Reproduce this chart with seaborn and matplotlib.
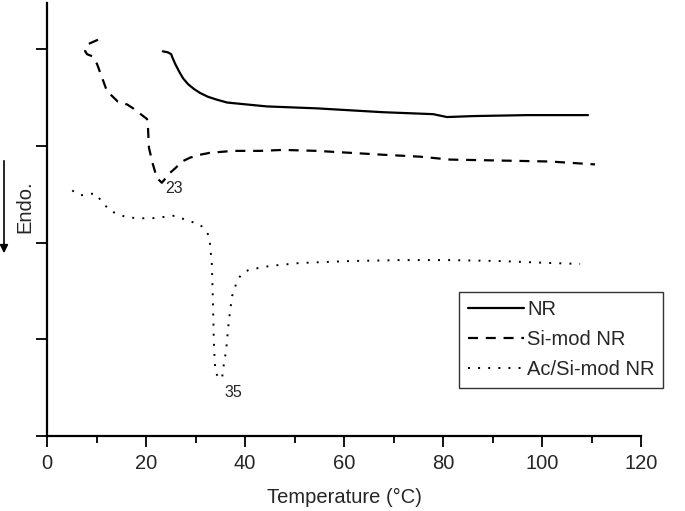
import numpy as np
import pandas as pd
import matplotlib
matplotlib.use("Agg")
import matplotlib.pyplot as plt
import seaborn as sns

# DSC curves (temperature in C, heat flow in arbitrary units)
nr_temp = [23.4, 24.4, 25.1, 25.3, 25.9, 26.7, 27.5, 28.5, 29.7, 30.9, 32.5, 34.3, 36.4, 38.4, 44.4,
           54.5, 67.9, 78.0, 80.8, 86.1, 97.0, 109.3]
nr_flow = [3.98, 3.97, 3.95, 3.92, 3.85, 3.77, 3.70, 3.64, 3.59, 3.55, 3.51, 3.48, 3.45, 3.44, 3.41,
           3.39, 3.35, 3.33, 3.30, 3.31, 3.32, 3.32]

si_temp = [10.3, 8.1, 7.7, 8.1, 9.1, 10.1, 12.1, 14.3, 16.2, 17.4, 20.2, 20.4, 20.6, 21.4, 22.2, 23.2,
           24.0, 24.8, 25.9, 27.3, 28.9, 30.9, 32.9, 37.6, 43.0, 47.7, 54.5, 61.2, 67.9, 75.4, 81.4,
           91.5, 101.6, 110.7]
si_flow = [4.10, 4.05, 3.98, 3.95, 3.93, 3.85, 3.57, 3.46, 3.43, 3.39, 3.28, 3.19, 2.98, 2.81, 2.67, 2.62,
           2.67, 2.72, 2.77, 2.84, 2.88, 2.91, 2.93, 2.95, 2.95, 2.96, 2.95, 2.93, 2.91, 2.89, 2.86,
           2.85, 2.84, 2.81]

ac_temp = [5.1, 6.7, 9.7, 10.7, 12.7, 16.2, 20.8, 24.2, 25.9, 28.3, 30.9, 32.5, 32.9, 33.3, 33.5, 33.7,
           33.9, 34.1, 34.7, 35.4, 35.6, 36.2, 36.6, 37.0, 37.4, 38.0, 38.4, 39.4, 40.8, 45.1, 51.1,
           61.2, 71.3, 81.4, 91.5, 101.6, 107.7]
ac_flow = [2.54, 2.49, 2.51, 2.45, 2.33, 2.26, 2.25, 2.27, 2.28, 2.23, 2.19, 2.09, 2.00, 1.78, 1.43, 0.99,
           0.75, 0.66, 0.59, 0.61, 0.70, 0.89, 1.12, 1.30, 1.45, 1.54, 1.61, 1.68, 1.72, 1.76, 1.79,
           1.81, 1.82, 1.82, 1.81, 1.79, 1.78]

x_ticks = [0, 20, 40, 60, 80, 100, 120]

sns.set_style("ticks")
plt.rcParams['font.family'] = ['Liberation Sans', 'DejaVu Sans']

fig = plt.figure(figsize=(6.85, 5.11), dpi=100)
ax = fig.add_axes([47 / 685, 1 - 436 / 511, 594 / 685, 433 / 511])

sns.lineplot(x=nr_temp, y=nr_flow, ax=ax, sort=False, estimator=None,
             color='black', linewidth=1.6, label='NR')
sns.lineplot(x=si_temp, y=si_flow, ax=ax, sort=False, estimator=None,
             color='black', linewidth=1.6, linestyle=(0, (4.5, 3.5)), label='Si-mod NR')
sns.lineplot(x=ac_temp, y=ac_flow, ax=ax, sort=False, estimator=None,
             color='black', linewidth=1.4, linestyle=(0, (1, 4.2)), label='Ac/Si-mod NR')

# peak labels
ax.text(25.7, 2.56, '23', fontsize=11.5, ha='center', va='center')
ax.text(37.7, 0.45, '35', fontsize=11.5, ha='center', va='center')

ax.set_xlim(0, 120)
ax.set_ylim(0, 4.48)
ax.set_xticks(x_ticks)
ax.set_xticks([10, 30, 50, 70, 90, 110], minor=True)
ax.set_yticks([0, 1, 2, 3, 4])
ax.set_yticklabels([])
ax.tick_params(axis='x', which='major', length=8, width=1.3, labelsize=14.5, pad=5, color='black')
ax.tick_params(axis='x', which='minor', length=5, width=1.3, color='black')
ax.tick_params(axis='y', length=8, width=1.3, color='black')
for s in ['left', 'bottom']:
    ax.spines[s].set_linewidth(1.6)
    ax.spines[s].set_color('black')
sns.despine(ax=ax)

ax.set_xlabel('Temperature (\u00b0C)', fontsize=14.5, labelpad=11)
ax.set_ylabel('')

# Endo. marker on the left
fig.text(25 / 685, 1 - 207 / 511, 'Endo.', rotation=90, fontsize=14.5, ha='center', va='center')
ax.annotate('', xy=(4, 511 - 256), xytext=(4, 511 - 158), xycoords='figure pixels',
            textcoords='figure pixels',
            arrowprops=dict(arrowstyle='-|>', color='black', lw=1.2, mutation_scale=12))

leg = ax.legend(loc='upper left', bbox_to_anchor=(0.694, 0.333), borderaxespad=0,
                fontsize=14.5, frameon=True, fancybox=False, handlelength=2.8,
                handletextpad=0.15, labelspacing=0.55, borderpad=0.42)
leg.get_frame().set_edgecolor('black')
leg.get_frame().set_linewidth(1.0)

fig.savefig('out.png', dpi=100)
